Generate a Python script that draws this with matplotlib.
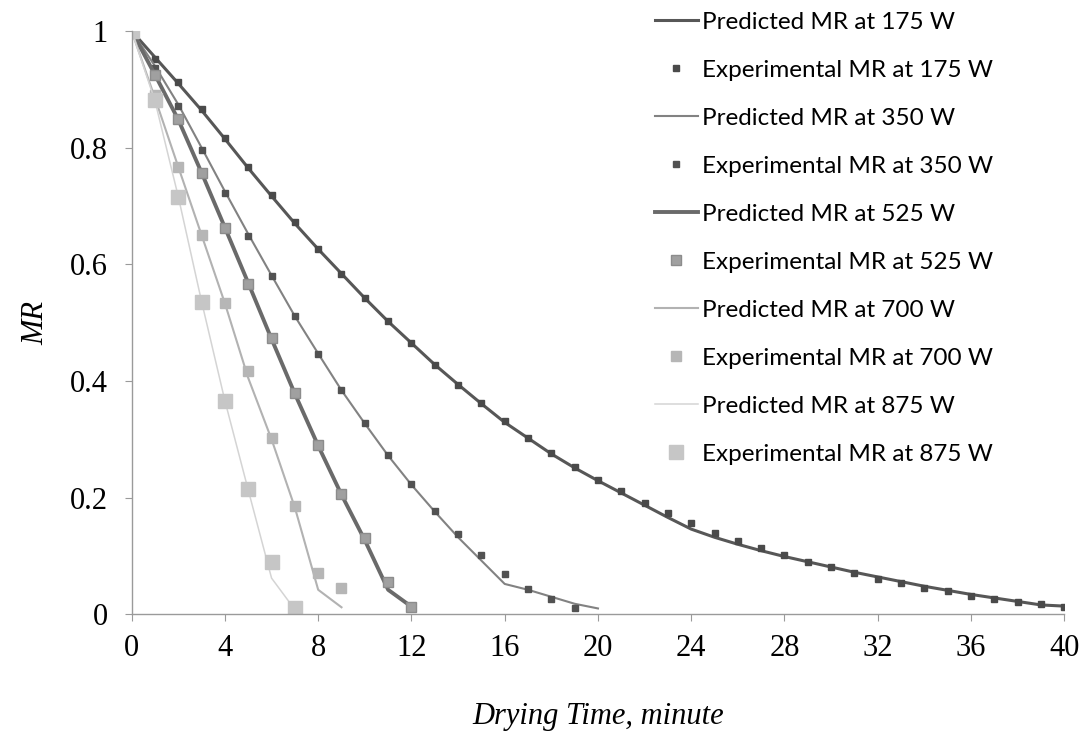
import numpy as np
import matplotlib.pyplot as plt
from matplotlib.ticker import FuncFormatter

# Drying time (minute) and moisture ratio
t_175 = list(range(0, 41))
exp_175 = [1.0, 0.952, 0.913, 0.867, 0.816, 0.767, 0.718, 0.672, 0.627, 0.584, 0.543,
           0.502, 0.465, 0.428, 0.393, 0.362, 0.331, 0.302, 0.277, 0.252, 0.230,
           0.212, 0.190, 0.173, 0.156, 0.140, 0.126, 0.113, 0.101, 0.090, 0.081,
           0.070, 0.061, 0.053, 0.045, 0.040, 0.031, 0.027, 0.021, 0.017, 0.013]
pred_175 = [1.0, 0.955, 0.910, 0.864, 0.815, 0.765, 0.717, 0.670, 0.626, 0.584, 0.542,
            0.502, 0.465, 0.428, 0.394, 0.361, 0.329, 0.302, 0.275, 0.251, 0.229,
            0.208, 0.187, 0.166, 0.146, 0.132, 0.120, 0.109, 0.099, 0.090, 0.081,
            0.072, 0.064, 0.056, 0.048, 0.041, 0.034, 0.028, 0.022, 0.016, 0.014]

t_350 = list(range(0, 20))
exp_350 = [1.0, 0.937, 0.872, 0.796, 0.722, 0.649, 0.580, 0.511, 0.447, 0.384, 0.328,
           0.273, 0.223, 0.177, 0.137, 0.102, 0.069, 0.044, 0.026, 0.010]
t_350p = list(range(0, 21))
pred_350 = [1.0, 0.940, 0.874, 0.800, 0.725, 0.652, 0.581, 0.511, 0.447, 0.384, 0.327,
            0.272, 0.222, 0.176, 0.132, 0.092, 0.052, 0.042, 0.030, 0.018, 0.010]

t_525 = list(range(0, 13))
exp_525 = [1.0, 0.925, 0.849, 0.757, 0.662, 0.567, 0.473, 0.380, 0.291, 0.207, 0.130,
           0.055, 0.013]
pred_525 = [1.0, 0.925, 0.848, 0.757, 0.663, 0.568, 0.472, 0.378, 0.289, 0.205, 0.127,
            0.042, 0.013]

t_700 = list(range(0, 10))
exp_700 = [1.0, 0.890, 0.767, 0.650, 0.534, 0.417, 0.302, 0.185, 0.071, 0.045]
pred_700 = [1.0, 0.885, 0.767, 0.650, 0.533, 0.405, 0.300, 0.183, 0.042, 0.012]

t_875 = list(range(0, 8))
exp_875 = [1.0, 0.882, 0.716, 0.536, 0.366, 0.214, 0.090, 0.010]
pred_875 = [1.0, 0.880, 0.716, 0.536, 0.366, 0.213, 0.062, 0.008]

fig = plt.figure(figsize=(10.89, 7.40), dpi=100)
ax = fig.add_axes([0.1209, 0.1699, 0.8564, 0.7882])

l1, = ax.plot(t_175, pred_175, color='#575757', lw=2.2)
m1, = ax.plot(t_175, exp_175, 's', color='#4a4a4a', ms=5, ls='none')
l2, = ax.plot(t_350p, pred_350, color='#828282', lw=1.5)
m2, = ax.plot(t_350, exp_350, 's', color='#525252', ms=5, ls='none')
l3, = ax.plot(t_525, pred_525, color='#6a6a6a', lw=2.8)
m3, = ax.plot(t_525, exp_525, 's', color='#a0a0a0', mec='#8c8c8c', ms=7, ls='none')
l4, = ax.plot(t_700, pred_700, color='#b2b2b2', lw=1.5)
m4, = ax.plot(t_700, exp_700, 's', color='#b6b6b6', ms=7.5, ls='none')
l5, = ax.plot(t_875, pred_875, color='#d4d4d4', lw=1.1)
m5, = ax.plot(t_875, exp_875, 's', color='#c6c6c6', ms=10, ls='none')

ax.set_xlim(0, 40)
ax.set_ylim(0, 1)
ax.set_xticks(np.arange(0, 41, 4))
ax.set_yticks(np.arange(0, 1.01, 0.2))
ax.yaxis.set_major_formatter(FuncFormatter(lambda v, p: '%g' % round(v, 1)))

for s in ['top', 'right']:
    ax.spines[s].set_visible(False)
for s in ['left', 'bottom']:
    ax.spines[s].set_color('#9a9a9a')
    ax.spines[s].set_linewidth(1.0)
ax.tick_params(direction='out', length=5, color='#9a9a9a', labelsize=22)
ax.tick_params(axis='y', pad=12)
ax.tick_params(axis='x', pad=9)
for lab in ax.get_xticklabels() + ax.get_yticklabels():
    lab.set_family('Liberation Serif')

ax.set_xlabel('Drying Time, minute', family='Liberation Serif', style='italic',
              fontsize=22, labelpad=28)
ax.set_ylabel('MR', family='Liberation Serif', style='italic', fontsize=22, labelpad=14)

handles = [l1, m1, l2, m2, l3, m3, l4, m4, l5, m5]
labels = []
for w in ['175', '350', '525', '700', '875']:
    labels.append('Predicted MR at %s W' % w)
    labels.append('Experimental MR at %s W' % w)
ax.legend(handles, labels, loc='upper left', bbox_to_anchor=(0.5937, 0.9953),
          bbox_transform=fig.transFigure, frameon=False,
          prop={'family': 'Lato', 'size': 17.5}, handlelength=1.75,
          handletextpad=0.2, labelspacing=1.11, borderaxespad=0, borderpad=0.35)

fig.savefig('out.png', dpi=100)
